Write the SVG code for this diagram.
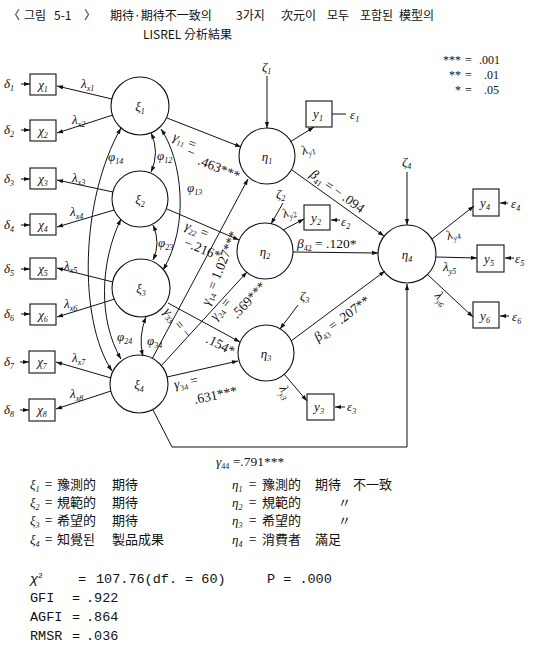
<svg xmlns="http://www.w3.org/2000/svg" width="538" height="658" viewBox="0 0 538 658">
<defs>
<marker id="ah" viewBox="0 0 10 10" refX="10" refY="5" markerWidth="7" markerHeight="6" markerUnits="userSpaceOnUse" orient="auto-start-reverse"><path d="M0,1.5L10,5L0,8.5z" fill="#111"/></marker>
<style>
text{font-family:"Liberation Serif","Noto Sans CJK KR",serif;font-size:12px;fill:#111}
.g{font-style:italic;font-size:13px}
.v{font-size:13.5px}
.s{font-size:8px;baseline-shift:-3px}
.sup{font-size:8px;baseline-shift:5px}
.k{font-family:"Noto Sans CJK KR","Liberation Serif",sans-serif;font-size:13px}
.t{font-family:"Noto Sans CJK KR","Liberation Serif",sans-serif;font-size:12px}
.m{font-family:"Liberation Mono","Liberation Serif",monospace;font-size:13.5px}
.n circle{fill:#fff;stroke:#111;stroke-width:1.1}
.b rect{fill:#fff;stroke:#111;stroke-width:1.1}
#edges line,#edges path,#edges polyline{stroke:#111;stroke-width:1;fill:none}
.ar{marker-end:url(#ah)}
.dd{marker-start:url(#ah);marker-end:url(#ah)}
</style>
</defs>
<rect width="538" height="658" fill="#fff"/>

<!-- title -->
<g id="title">
<text x="8" y="20" class="t">〈</text>
<text x="24" y="20" class="t">그림</text>
<text x="54" y="20" class="t">5-1</text>
<text x="84" y="20" class="t">〉</text>
<text x="110" y="20" class="t">期待·期待不一致의</text>
<text x="236" y="20" class="t">3가지</text>
<text x="281" y="20" class="t">次元이</text>
<text x="327" y="20" class="t">모두</text>
<text x="360" y="20" class="t">포함된</text>
<text x="399" y="20" class="t">模型의</text>
<text x="143" y="39" class="t">LISREL 分析結果</text>
</g>

<g id="sig">
<text x="461" y="64" text-anchor="end">***</text><text x="465" y="64">=</text><text x="479" y="64">.001</text>
<text x="461" y="79" text-anchor="end">**</text><text x="465" y="79">=</text><text x="484" y="79">.01</text>
<text x="461" y="94" text-anchor="end">*</text><text x="465" y="94">=</text><text x="484" y="94">.05</text>
</g>

<!-- latent nodes -->
<g id="xi1" class="n"><circle cx="140" cy="106" r="29"/><text x="140" y="111" class="g" text-anchor="middle">ξ<tspan class="s">1</tspan></text></g>
<g id="xi2" class="n"><circle cx="140" cy="199" r="28"/><text x="140" y="204" class="g" text-anchor="middle">ξ<tspan class="s">2</tspan></text></g>
<g id="xi3" class="n"><circle cx="141" cy="288" r="29"/><text x="141" y="293" class="g" text-anchor="middle">ξ<tspan class="s">3</tspan></text></g>
<g id="xi4" class="n"><circle cx="139" cy="384" r="29"/><text x="139" y="389" class="g" text-anchor="middle">ξ<tspan class="s">4</tspan></text></g>
<g id="eta1" class="n"><circle cx="267" cy="156" r="28"/><text x="267" y="161" class="g" text-anchor="middle">η<tspan class="s">1</tspan></text></g>
<g id="eta2" class="n"><circle cx="265" cy="251" r="28"/><text x="265" y="256" class="g" text-anchor="middle">η<tspan class="s">2</tspan></text></g>
<g id="eta3" class="n"><circle cx="266" cy="353" r="28"/><text x="266" y="358" class="g" text-anchor="middle">η<tspan class="s">3</tspan></text></g>
<g id="eta4" class="n"><circle cx="407" cy="254" r="29"/><text x="407" y="259" class="g" text-anchor="middle">η<tspan class="s">4</tspan></text></g>

<!-- x boxes -->
<g id="x1" class="b"><rect x="30" y="74" width="26" height="21"/><text x="43" y="89" class="g" text-anchor="middle">χ<tspan class="s">1</tspan></text><text x="4" y="88" class="g">δ<tspan class="s">1</tspan></text></g>
<g id="x2" class="b"><rect x="30" y="120" width="26" height="21"/><text x="43" y="135" class="g" text-anchor="middle">χ<tspan class="s">2</tspan></text><text x="4" y="134" class="g">δ<tspan class="s">2</tspan></text></g>
<g id="x3" class="b"><rect x="30" y="168" width="26" height="21"/><text x="43" y="183" class="g" text-anchor="middle">χ<tspan class="s">3</tspan></text><text x="4" y="183" class="g">δ<tspan class="s">3</tspan></text></g>
<g id="x4" class="b"><rect x="30" y="214" width="26" height="21"/><text x="43" y="229" class="g" text-anchor="middle">χ<tspan class="s">4</tspan></text><text x="4" y="229" class="g">δ<tspan class="s">4</tspan></text></g>
<g id="x5" class="b"><rect x="30" y="258" width="26" height="21"/><text x="43" y="273" class="g" text-anchor="middle">χ<tspan class="s">5</tspan></text><text x="4" y="273" class="g">δ<tspan class="s">5</tspan></text></g>
<g id="x6" class="b"><rect x="30" y="304" width="26" height="21"/><text x="43" y="319" class="g" text-anchor="middle">χ<tspan class="s">6</tspan></text><text x="4" y="318" class="g">δ<tspan class="s">6</tspan></text></g>
<g id="x7" class="b"><rect x="29" y="351" width="26" height="22"/><text x="42" y="366" class="g" text-anchor="middle">χ<tspan class="s">7</tspan></text><text x="4" y="366" class="g">δ<tspan class="s">7</tspan></text></g>
<g id="x8" class="b"><rect x="29" y="399" width="26" height="22"/><text x="42" y="414" class="g" text-anchor="middle">χ<tspan class="s">8</tspan></text><text x="4" y="414" class="g">δ<tspan class="s">8</tspan></text></g>

<!-- y boxes -->
<g id="y1" class="b"><rect x="306" y="101" width="26" height="26"/><text x="318" y="118" class="g" text-anchor="middle">y<tspan class="s">1</tspan></text><text x="350" y="119" class="g">ε<tspan class="s">1</tspan></text></g>
<g id="y2" class="b"><rect x="304" y="205" width="26" height="25"/><text x="316" y="222" class="g" text-anchor="middle">y<tspan class="s">2</tspan></text><text x="341" y="226" class="g">ε<tspan class="s">2</tspan></text></g>
<g id="y3" class="b"><rect x="307" y="394" width="27" height="26"/><text x="319" y="411" class="g" text-anchor="middle">y<tspan class="s">3</tspan></text><text x="347" y="411" class="g">ε<tspan class="s">3</tspan></text></g>
<g id="y4" class="b"><rect x="473" y="189" width="26" height="27"/><text x="485" y="207" class="g" text-anchor="middle">y<tspan class="s">4</tspan></text><text x="511" y="208" class="g">ε<tspan class="s">4</tspan></text></g>
<g id="y5" class="b"><rect x="477" y="245" width="27" height="27"/><text x="489" y="263" class="g" text-anchor="middle">y<tspan class="s">5</tspan></text><text x="515" y="263" class="g">ε<tspan class="s">5</tspan></text></g>
<g id="y6" class="b"><rect x="473" y="302" width="26" height="26"/><text x="485" y="320" class="g" text-anchor="middle">y<tspan class="s">6</tspan></text><text x="512" y="321" class="g">ε<tspan class="s">6</tspan></text></g>

<!-- zeta labels -->
<g id="zeta">
<text x="262" y="71" class="g">ζ<tspan class="s">1</tspan></text>
<text x="276" y="198" class="g">ζ<tspan class="s">2</tspan></text>
<text x="300" y="300" class="g">ζ<tspan class="s">3</tspan></text>
<text x="402" y="166" class="g">ζ<tspan class="s">4</tspan></text>
</g>

<!-- connectors -->
<g id="edges">
<line x1="112" y1="99" x2="57" y2="86" class="ar"/>
<line x1="113" y1="115" x2="57" y2="133" class="ar"/>
<line x1="113" y1="192" x2="57" y2="180" class="ar"/>
<line x1="114" y1="210" x2="57" y2="227" class="ar"/>
<line x1="113" y1="282" x2="57" y2="268" class="ar"/>
<line x1="115" y1="299" x2="57" y2="317" class="ar"/>
<line x1="111" y1="378" x2="56" y2="362" class="ar"/>
<line x1="111" y1="391" x2="56" y2="409" class="ar"/>
<line x1="21" y1="84" x2="30" y2="84" class="ar"/>
<line x1="21" y1="130" x2="30" y2="130" class="ar"/>
<line x1="21" y1="179" x2="30" y2="179" class="ar"/>
<line x1="21" y1="225" x2="30" y2="225" class="ar"/>
<line x1="21" y1="269" x2="30" y2="269" class="ar"/>
<line x1="21" y1="314" x2="30" y2="314" class="ar"/>
<line x1="20" y1="362" x2="29" y2="362" class="ar"/>
<line x1="20" y1="410" x2="29" y2="410" class="ar"/>
<path d="M151,133 Q160,152 151,172" class="dd"/>
<path d="M153,225 Q161,243 153,260" class="dd"/>
<path d="M146,317 Q138,337 143,356" class="dd"/>
<path d="M161,129 C182,160 190,225 163,270" class="dd"/>
<path d="M121,128 C80,200 78,320 112,371" class="dd"/>
<path d="M121,219 C100,262 98,320 121,359" class="dd"/>
<line x1="167" y1="118" x2="241" y2="147" class="ar"/>
<line x1="167" y1="209" x2="239" y2="240" class="ar"/>
<line x1="152" y1="359" x2="248" y2="179" class="ar"/>
<line x1="161" y1="366" x2="247" y2="272" class="ar"/>
<line x1="168" y1="303" x2="240" y2="342" class="ar"/>
<line x1="167" y1="377" x2="238" y2="361" class="ar"/>
<polyline points="153,410 172,447 407,447 407,284" class="ar"/>
<line x1="292" y1="170" x2="384" y2="236" class="ar"/>
<line x1="293" y1="252" x2="378" y2="253" class="ar"/>
<line x1="291" y1="341" x2="385" y2="271" class="ar"/>
<line x1="267" y1="76" x2="267" y2="128" class="ar"/>
<line x1="283" y1="203" x2="271" y2="224" class="ar"/>
<line x1="298" y1="305" x2="280" y2="329" class="ar"/>
<line x1="407" y1="172" x2="407" y2="225" class="ar"/>
<line x1="290" y1="142" x2="314" y2="127" class="ar"/>
<line x1="283" y1="230" x2="304" y2="219" class="ar"/>
<line x1="284" y1="374" x2="307" y2="401" class="ar"/>
<line x1="432" y1="239" x2="474" y2="206" class="ar"/>
<line x1="436" y1="257" x2="477" y2="258" class="ar"/>
<line x1="428" y1="275" x2="473" y2="317" class="ar"/>
<line x1="332" y1="114" x2="346" y2="114"/>
<line x1="340" y1="220" x2="331" y2="220" class="ar"/>
<line x1="345" y1="407" x2="335" y2="407" class="ar"/>
<line x1="508" y1="203" x2="500" y2="203" class="ar"/>
<line x1="514" y1="258" x2="505" y2="258" class="ar"/>
<line x1="509" y1="316" x2="500" y2="316" class="ar"/>
</g>

<!-- connector labels -->
<g id="edge-labels">
<text x="81" y="88" class="g">λ<tspan class="s">x1</tspan></text>
<text x="72" y="124" class="g">λ<tspan class="s">x2</tspan></text>
<text x="72" y="182" class="g">λ<tspan class="s">x3</tspan></text>
<text x="70" y="216" class="g">λ<tspan class="s">x4</tspan></text>
<text x="64" y="270" class="g">λ<tspan class="s">x5</tspan></text>
<text x="64" y="308" class="g">λ<tspan class="s">x6</tspan></text>
<text x="72" y="362" class="g">λ<tspan class="s">x7</tspan></text>
<text x="70" y="398" class="g">λ<tspan class="s">x8</tspan></text>
<text x="157" y="160" class="g">φ<tspan class="s">12</tspan></text>
<text x="158" y="247" class="g">φ<tspan class="s">23</tspan></text>
<text x="147" y="345" class="g">φ<tspan class="s">34</tspan></text>
<text x="187" y="192" class="g">φ<tspan class="s">13</tspan></text>
<text x="108" y="161" class="g">φ<tspan class="s">14</tspan></text>
<text x="117" y="341" class="g">φ<tspan class="s">24</tspan></text>
<text x="303" y="155" class="g" transform="rotate(-20 303 155)">λ<tspan class="s">y1</tspan></text>
<text x="284" y="218" class="g" transform="rotate(-20 284 218)">λ<tspan class="s">y2</tspan></text>
<text x="279" y="388" class="g" transform="rotate(65 279 388)">λ<tspan class="s">y3</tspan></text>
<text x="448" y="240" class="g" transform="rotate(-20 448 240)">λ<tspan class="s">y4</tspan></text>
<text x="443" y="271" class="g">λ<tspan class="s">y5</tspan></text>
<text x="434" y="296" class="g" transform="rotate(50 434 296)">λ<tspan class="s">y6</tspan></text>
<text x="172" y="140" class="v" transform="rotate(22 172 140)"><tspan font-style="italic">γ</tspan><tspan class="s">11</tspan> =</text>
<text x="186" y="155" class="v" transform="rotate(22 186 155)">−</text>
<text x="197" y="164" class="v" transform="rotate(22 197 164)">.463***</text>
<text x="184" y="229" class="v" transform="rotate(22 184 229)"><tspan font-style="italic">γ</tspan><tspan class="s">22</tspan> =</text>
<text x="183" y="246" class="v" transform="rotate(22 183 246)">−.216*</text>
<text x="209" y="306" class="v" transform="rotate(-68 209 306)"><tspan font-style="italic">γ</tspan><tspan class="s">14</tspan> = 1.027***</text>
<text x="216" y="321" class="v" transform="rotate(-50 216 321)"><tspan font-style="italic">γ</tspan><tspan class="s">24</tspan> =</text>
<text x="237" y="319" class="v" transform="rotate(-47 237 319)">.569***</text>
<text x="163" y="312" class="v" transform="rotate(50 163 312)"><tspan font-style="italic">γ</tspan><tspan class="s">33</tspan> = −</text>
<text x="205" y="342" class="v" transform="rotate(27 205 342)">.154*</text>
<text x="175" y="389" class="v" transform="rotate(-12 175 389)"><tspan font-style="italic">γ</tspan><tspan class="s">34</tspan> =</text>
<text x="195" y="404" class="v" transform="rotate(-12 195 404)">.631***</text>
<text x="216" y="466" class="v"><tspan font-style="italic">γ</tspan><tspan class="s">44</tspan> =.791***</text>
<text x="309" y="176" class="v" transform="rotate(36 309 176)"><tspan font-style="italic">β</tspan><tspan class="s">41</tspan> = − .094</text>
<text x="297" y="248" class="v"><tspan font-style="italic">β</tspan><tspan class="s">42</tspan> = .120*</text>
<text x="318" y="342" class="v" transform="rotate(-37 318 342)"><tspan font-style="italic">β</tspan><tspan class="s">43</tspan> = .207**</text>
</g>

<!-- legend -->
<g id="legend">
<text x="30" y="489" class="g">ξ<tspan class="s">1</tspan></text><text x="45" y="489" class="k">=</text><text x="57" y="489" class="k">豫測的</text><text x="112" y="489" class="k">期待</text>
<text x="30" y="507" class="g">ξ<tspan class="s">2</tspan></text><text x="45" y="507" class="k">=</text><text x="57" y="507" class="k">規範的</text><text x="112" y="507" class="k">期待</text>
<text x="30" y="525" class="g">ξ<tspan class="s">3</tspan></text><text x="45" y="525" class="k">=</text><text x="57" y="525" class="k">希望的</text><text x="112" y="525" class="k">期待</text>
<text x="30" y="544" class="g">ξ<tspan class="s">4</tspan></text><text x="45" y="544" class="k">=</text><text x="57" y="544" class="k">知覺된</text><text x="112" y="544" class="k">製品成果</text>
<text x="232" y="489" class="g">η<tspan class="s">1</tspan></text><text x="249" y="489" class="k">=</text><text x="262" y="489" class="k">豫測的</text><text x="315" y="489" class="k">期待</text><text x="353" y="489" class="k">不一致</text>
<text x="232" y="507" class="g">η<tspan class="s">2</tspan></text><text x="249" y="507" class="k">=</text><text x="262" y="507" class="k">規範的</text><text x="338" y="507" class="k">〃</text>
<text x="232" y="525" class="g">η<tspan class="s">3</tspan></text><text x="249" y="525" class="k">=</text><text x="262" y="525" class="k">希望的</text><text x="338" y="525" class="k">〃</text>
<text x="232" y="544" class="g">η<tspan class="s">4</tspan></text><text x="249" y="544" class="k">=</text><text x="262" y="544" class="k">消費者</text><text x="315" y="544" class="k">滿足</text>
</g>

<g id="stats">
<text x="30" y="583" class="m"><tspan font-style="italic">χ</tspan><tspan class="sup">2</tspan></text><text x="78" y="583" class="m">=</text><text x="96" y="583" class="m">107.76(df. = 60)</text><text x="267" y="583" class="m">P = .000</text>
<text x="30" y="602" class="m">GFI</text><text x="72" y="602" class="m">=</text><text x="86" y="602" class="m">.922</text>
<text x="30" y="621" class="m">AGFI</text><text x="72" y="621" class="m">=</text><text x="86" y="621" class="m">.864</text>
<text x="30" y="640" class="m">RMSR</text><text x="72" y="640" class="m">=</text><text x="86" y="640" class="m">.036</text>
</g>
</svg>
